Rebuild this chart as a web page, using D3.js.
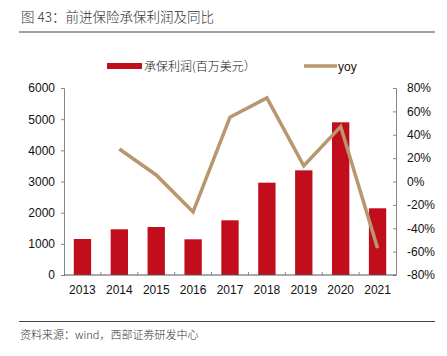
<!DOCTYPE html>
<html><head><meta charset="utf-8">
<script src="https://cdn.jsdelivr.net/npm/d3@7"></script>
<style>body{margin:0;background:#fff}svg{display:block}</style>
</head><body>
<svg id="c" width="447" height="356"></svg>
<script>
const years = ["2013","2014","2015","2016","2017","2018","2019","2020","2021"];
const profit = [1155, 1466, 1540, 1145, 1755, 2962, 3358, 4899, 2140];
const yoy = [null, 27.8, 5.6, -26, 55, 71.5, 13.5, 47, -57];
const leftTicks = [0,1000,2000,3000,4000,5000,6000];
const rightTicks = [-80,-60,-40,-20,0,20,40,60,80];
const title = "图 43：前进保险承保利润及同比";
const source = "资料来源：wind，西部证券研发中心";
const barName = "承保利润(百万美元）";
const lineName = "yoy";

const svg = d3.select("#c");
const font = "'Liberation Sans', Arial, sans-serif";
const cjk = "'Noto Sans CJK SC', sans-serif";
const L = 64, R = 396, T = 88, B = 275;
const barColor = "#C20E1C", lineColor = "#B8966E", axisColor = "#888";

// title
svg.append("text").attr("x",21).attr("y",22).attr("font-family",cjk).attr("font-weight",300).attr("font-size",13.5).attr("fill","#333").text(title);
svg.append("line").attr("x1",19).attr("x2",435).attr("y1",32).attr("y2",32).attr("stroke","#444").attr("stroke-width",1.2);
svg.append("line").attr("x1",19).attr("x2",435).attr("y1",321.5).attr("y2",321.5).attr("stroke","#444").attr("stroke-width",1.2);
svg.append("text").attr("x",20).attr("y",339).attr("font-family",cjk).attr("font-weight",300).attr("font-size",11).attr("fill","#333").text(source);

const x = d3.scaleBand().domain(years).range([L,R]).paddingInner(0.53).paddingOuter(0.265);
const xOuter = d3.scaleBand().domain(years).range([L,R]);
const yL = d3.scaleLinear().domain([0,6000]).range([B,T]);
const yR = d3.scaleLinear().domain([-80,80]).range([B,T]);

// bars
svg.append("g").selectAll("rect").data(profit).join("rect")
  .attr("x",(d,i)=>x(years[i])).attr("width",x.bandwidth())
  .attr("y",d=>yL(d)).attr("height",d=>B-yL(d)).attr("fill",barColor);

// line
const line = d3.line().defined(d=>d!=null).x((d,i)=>xOuter(years[i])+xOuter.bandwidth()/2).y(d=>yR(d));
svg.append("path").datum(yoy).attr("d",line).attr("fill","none").attr("stroke",lineColor).attr("stroke-width",3.5).attr("stroke-linejoin","miter");

// axes
const gl = svg.append("g").attr("transform",`translate(${L},0)`).call(d3.axisLeft(yL).tickValues(leftTicks).tickSize(3).tickPadding(6).tickFormat(d3.format("d")));
const gr = svg.append("g").attr("transform",`translate(${R},0)`).call(d3.axisRight(yR).tickValues(rightTicks).tickSize(-3).tickPadding(11).tickFormat(d=>d+"%"));
const gb = svg.append("g").attr("transform",`translate(0,${B})`).call(d3.axisBottom(xOuter).tickSize(0).tickPadding(10));
// bottom ticks between categories
svg.append("g").selectAll("line").data(years.slice(1)).join("line")
  .attr("x1",d=>xOuter(d)).attr("x2",d=>xOuter(d)).attr("y1",B).attr("y2",B-3).attr("stroke",axisColor);
[gl,gr,gb].forEach(g=>{
  g.selectAll("path.domain").attr("stroke",axisColor);
  g.selectAll(".tick line").attr("stroke",axisColor);
  g.selectAll("text").attr("font-family",font).attr("font-size",12).attr("fill","#111");
});
gb.select("path.domain").attr("stroke","#555").attr("d",`M${L},0H${R}`);

// legend
svg.append("rect").attr("x",107).attr("y",63).attr("width",35).attr("height",6).attr("fill",barColor);
svg.append("text").attr("x",144).attr("y",70.5).attr("font-family",cjk).attr("font-weight",300).attr("font-size",12).attr("fill","#111").text(barName);
svg.append("line").attr("x1",304).attr("x2",337).attr("y1",66).attr("y2",66).attr("stroke",lineColor).attr("stroke-width",3.5);
svg.append("text").attr("x",338).attr("y",70.5).attr("font-family",font).attr("font-size",12).attr("fill","#111").text(lineName);
</script>
</body></html>
